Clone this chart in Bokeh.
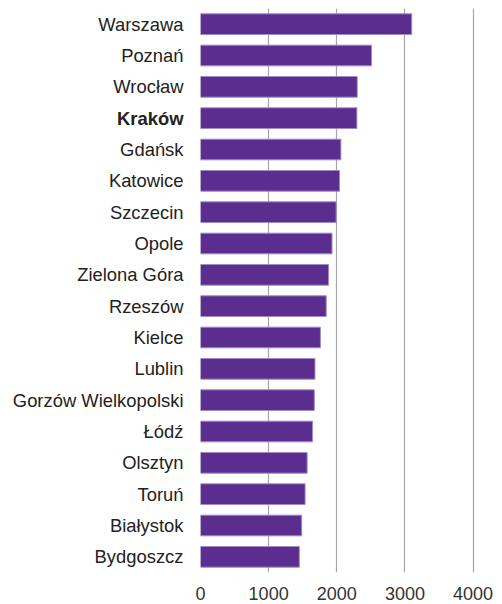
from bokeh.plotting import figure
from bokeh.layouts import row
from bokeh.models import ColumnDataSource, FactorRange, Range1d, FixedTicker
from bokeh.core.properties import value
from bokeh.embed import file_html
from bokeh.resources import INLINE

cities = ["Warszawa", "Poznań", "Wrocław", "Kraków", "Gdańsk", "Katowice",
          "Szczecin", "Opole", "Zielona Góra", "Rzeszów", "Kielce", "Lublin",
          "Gorzów Wielkopolski", "Łódź", "Olsztyn", "Toruń", "Białystok", "Bydgoszcz"]
values = [3100, 2510, 2300, 2295, 2060, 2040,
          1990, 1930, 1880, 1845, 1760, 1680,
          1670, 1645, 1565, 1535, 1485, 1450]
highlight = "Kraków"
x_ticks = [0, 1000, 2000, 3000, 4000]

styles = ["bold" if c == highlight else "normal" for c in cities]
src = ColumnDataSource(dict(city=cities, value=values, style=styles))
yr = FactorRange(*reversed(cities))

# label panel
lp = figure(y_range=yr, x_range=Range1d(0, 1),
            frame_width=188, frame_height=564,
            min_border_left=0, min_border_right=0, min_border_top=8, min_border_bottom=0,
            output_backend="svg", toolbar_location=None)
lp.outline_line_color = None
lp.xaxis.visible = False
lp.yaxis.visible = False
lp.grid.grid_line_color = None
lp.text(x=1, y="city", text="city", source=src, x_offset=-5,
        text_align="right", text_baseline="middle",
        text_font=value("Liberation Sans"), text_font_size="18.4px",
        text_font_style="style", text_color="#222222")

# bar panel
p = figure(y_range=yr, x_range=Range1d(0, 4300),
           frame_width=293, frame_height=564,
           min_border_left=12, min_border_right=1, min_border_top=8, min_border_bottom=0,
           output_backend="svg", toolbar_location=None)
p.outline_line_color = None
p.background_fill_color = "white"
p.border_fill_color = "white"

p.hbar(y="city", right="value", left=0, height=0.66, source=src,
       fill_color="#5b2d8e", line_color="#9f8cc6", line_width=1)

p.yaxis.visible = False
p.ygrid.grid_line_color = None
p.xgrid.grid_line_color = "#a6a6a6"
p.xgrid.grid_line_width = 1.2
p.xgrid.ticker = FixedTicker(ticks=x_ticks)

p.xaxis.ticker = FixedTicker(ticks=x_ticks)
p.xaxis.axis_line_color = None
p.xaxis.major_tick_line_color = None
p.xaxis.minor_tick_line_color = None
p.xaxis.major_tick_out = 0
p.xaxis.major_label_standoff = 14
p.xaxis.major_label_text_font = "Liberation Sans"
p.xaxis.major_label_text_font_size = "18px"
p.xaxis.major_label_text_color = "#333333"

layout = row(lp, p, spacing=0)
open("out.html", "w").write(file_html(layout, INLINE))
